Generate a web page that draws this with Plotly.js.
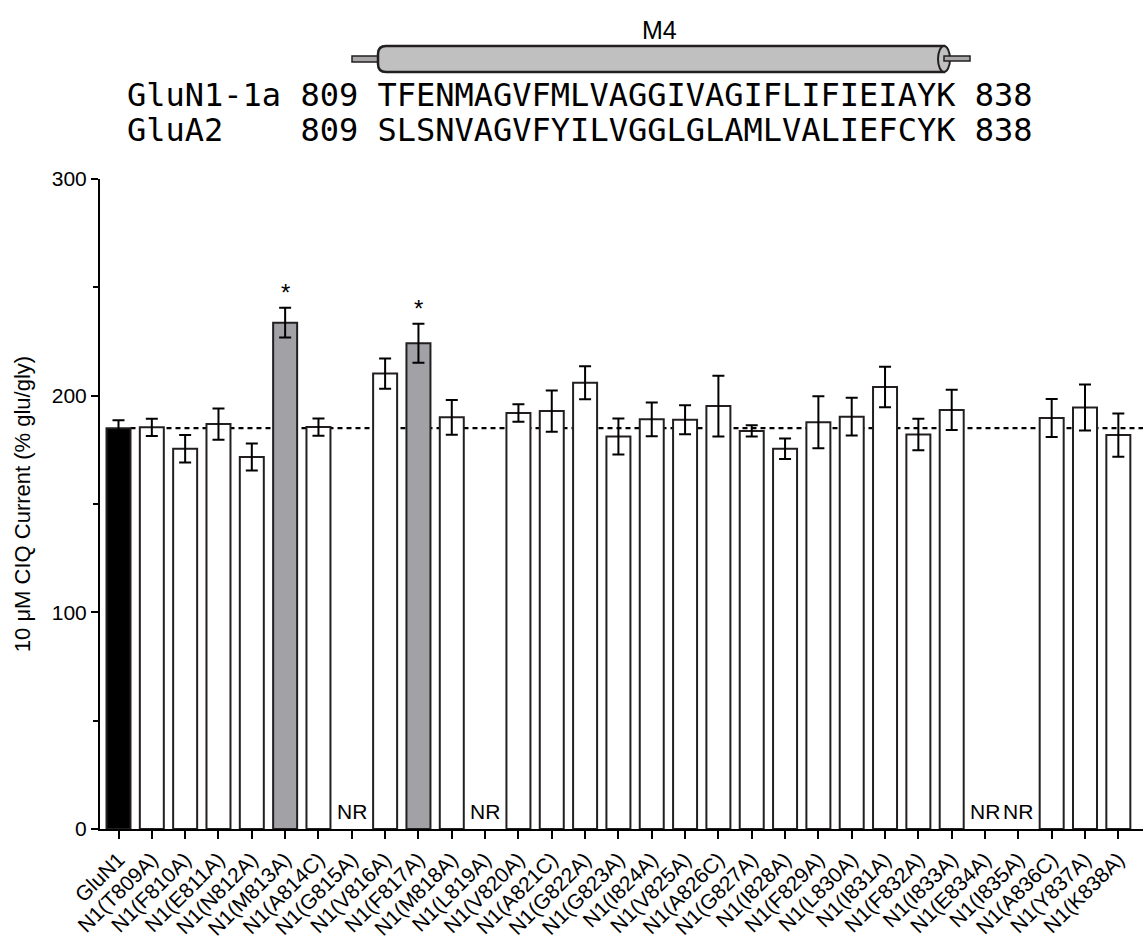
<!DOCTYPE html>
<html>
<head>
<meta charset="utf-8">
<script src="https://cdn.plot.ly/plotly-3.0.1.min.js"></script>
<style>html,body{margin:0;padding:0;background:#fff;}#chart{width:1143px;height:940px;}</style>
</head>
<body>
<div id="chart"></div>
<script>
// ---------------- data ----------------
const categories = ['GluN1','N1(T809A)','N1(F810A)','N1(E811A)','N1(N812A)','N1(M813A)','N1(A814C)','N1(G815A)',
  'N1(V816A)','N1(F817A)','N1(M818A)','N1(L819A)','N1(V820A)','N1(A821C)','N1(G822A)','N1(G823A)','N1(I824A)',
  'N1(V825A)','N1(A826C)','N1(G827A)','N1(I828A)','N1(F829A)','N1(L830A)','N1(I831A)','N1(F832A)','N1(I833A)',
  'N1(E834A)','N1(I835A)','N1(A836C)','N1(Y837A)','N1(K838A)'];
const meanCurrent = [185, 185.4, 175.5, 186.9, 171.7, 233.7, 185.5, null, 210.2, 224.2, 190.0, null, 192.0, 192.9,
  206.0, 181.2, 189.1, 188.9, 195.2, 183.7, 175.5, 187.7, 190.3, 204.0, 182.1, 193.4, null, null, 189.7, 194.5, 181.8];
const semCurrent = [3.7, 4.0, 6.4, 7.2, 6.2, 6.9, 4.0, null, 7.0, 9.0, 8.0, null, 4.0, 9.5, 7.6, 8.3, 7.8, 6.7,
  14.0, 2.6, 4.7, 12.0, 8.7, 9.4, 7.3, 9.3, null, null, 8.8, 10.6, 10.0];
const controlName = 'GluN1';
const significant = ['N1(M813A)', 'N1(F817A)'];
const yTickVals = [0, 100, 200, 300];
const helixLabel = 'M4';
const seqGluN1 = 'GluN1-1a 809 TFENMAGVFMLVAGGIVAGIFLIFIEIAYK 838';
const seqGluA2 = 'GluA2    809 SLSNVAGVFYILVGGLGLAMLVALIEFCYK 838';

// ---------------- layout helpers ----------------
const W = 1143, H = 940, ML = 100, MR = 0, MT = 179, MB = 111;
const PW = W - ML - MR, PH = H - MT - MB;
const px = x => (x - ML) / PW;
const py = y => (H - MB - y) / PH;
const FONT = 'Liberation Sans, Arial, sans-serif';
const OUT = '#231f20';

const fillColors = categories.map(c => c === controlName ? '#000000' :
  (significant.includes(c) ? '#a2a2a6' : '#ffffff'));
const idx = categories.map((c, i) => i);
const controlMean = meanCurrent[categories.indexOf(controlName)];

const trace = {
  type: 'bar',
  x: idx,
  y: meanCurrent,
  width: 0.72,
  marker: {color: fillColors, line: {color: OUT, width: 2}},
  error_y: {type: 'data', array: semCurrent, visible: true, color: '#000', thickness: 2, width: 6},
  hoverinfo: 'x+y'
};

const annotations = [];
// stars
significant.forEach(c => {
  const i = categories.indexOf(c);
  annotations.push({x: i, y: meanCurrent[i] + semCurrent[i], xref: 'x', yref: 'y', text: '*',
    showarrow: false, yanchor: 'bottom', yshift: 0, font: {family: FONT, size: 24, color: '#000'}});
});
// NR labels
categories.forEach((c, i) => {
  if (meanCurrent[i] === null) {
    annotations.push({x: i, y: 0, xref: 'x', yref: 'y', text: 'NR', showarrow: false,
      yanchor: 'bottom', yshift: 4, font: {family: FONT, size: 21, color: '#000'}});
  }
});
// header
annotations.push({x: px(659), y: py(30), xref: 'paper', yref: 'paper', text: helixLabel, showarrow: false,
  xanchor: 'center', yanchor: 'middle', font: {family: FONT, size: 25, color: '#000'}});
const nb = s => s.replace(/ /g, '\u00A0');
annotations.push({x: px(125), y: py(95), xref: 'paper', yref: 'paper', text: nb(seqGluN1), showarrow: false,
  xanchor: 'left', yanchor: 'middle', font: {family: 'DejaVu Sans Mono, monospace', size: 32, color: '#000'}});
annotations.push({x: px(125), y: py(130), xref: 'paper', yref: 'paper', text: nb(seqGluA2), showarrow: false,
  xanchor: 'left', yanchor: 'middle', font: {family: 'DejaVu Sans Mono, monospace', size: 32, color: '#000'}});

const P = (x, y) => px(x) + ',' + py(y);
const shapes = [
  // dashed control reference line (behind bars)
  {type: 'line', xref: 'x', yref: 'y', x0: 0.36, x1: categories.length - 0.26, y0: controlMean, y1: controlMean,
    layer: 'below', line: {color: '#000', width: 2.2, dash: '5px,4px'}},
  // helix cylinder
  {type: 'rect', xref: 'paper', yref: 'paper', x0: px(352), x1: px(380), y0: py(56), y1: py(62),
    fillcolor: '#a8a8a8', line: {color: OUT, width: 1.5}},
  {type: 'path', xref: 'paper', yref: 'paper',
    path: 'M' + P(386, 46) + ' L' + P(944, 46) + ' L' + P(944, 72) + ' L' + P(386, 72) +
      ' Q' + P(378, 72) + ' ' + P(378, 64) + ' L' + P(378, 54) + ' Q' + P(378, 46) + ' ' + P(386, 46) + ' Z',
    fillcolor: '#c0c0c0', line: {color: OUT, width: 2.5}},
  {type: 'circle', xref: 'paper', yref: 'paper', x0: px(938), x1: px(950), y0: py(46), y1: py(72),
    fillcolor: '#c0c0c0', line: {color: OUT, width: 2}},
  {type: 'rect', xref: 'paper', yref: 'paper', x0: px(944), x1: px(970), y0: py(56), y1: py(61),
    fillcolor: '#a8a8a8', line: {color: OUT, width: 1.5}}
];

const layout = {
  width: W, height: H,
  margin: {l: ML, r: MR, t: MT, b: MB, pad: 0},
  paper_bgcolor: '#fff', plot_bgcolor: '#fff',
  showlegend: false,
  font: {family: FONT, color: '#000'},
  xaxis: {
    range: [-0.555, 30.74], tickmode: 'array', tickvals: idx, ticktext: categories, tickangle: -45,
    ticks: 'outside', ticklen: 8, tickwidth: 2, tickcolor: '#000',
    showline: true, linecolor: '#000', linewidth: 2, showgrid: false, zeroline: false,
    tickfont: {family: FONT, size: 21, color: '#000'}, fixedrange: true
  },
  yaxis: {
    range: [0, 300], tickmode: 'array', tickvals: yTickVals,
    ticks: 'outside', ticklen: 7, tickwidth: 2, tickcolor: '#000',
    minor: {dtick: 50, ticks: 'outside', ticklen: 5, tickwidth: 2, tickcolor: '#000', showgrid: false},
    showline: true, linecolor: '#000', linewidth: 2, showgrid: false, zeroline: false,
    tickfont: {family: FONT, size: 21, color: '#000'},
    title: {text: '10 \u03BCM CIQ Current (% glu/gly)', font: {family: FONT, size: 22, color: '#000'}, standoff: 15},
    fixedrange: true
  },
  annotations: annotations,
  shapes: shapes,
  bargap: 0.28
};

Plotly.newPlot('chart', [trace], layout, {displayModeBar: false, staticPlot: true});
</script>
</body>
</html>
